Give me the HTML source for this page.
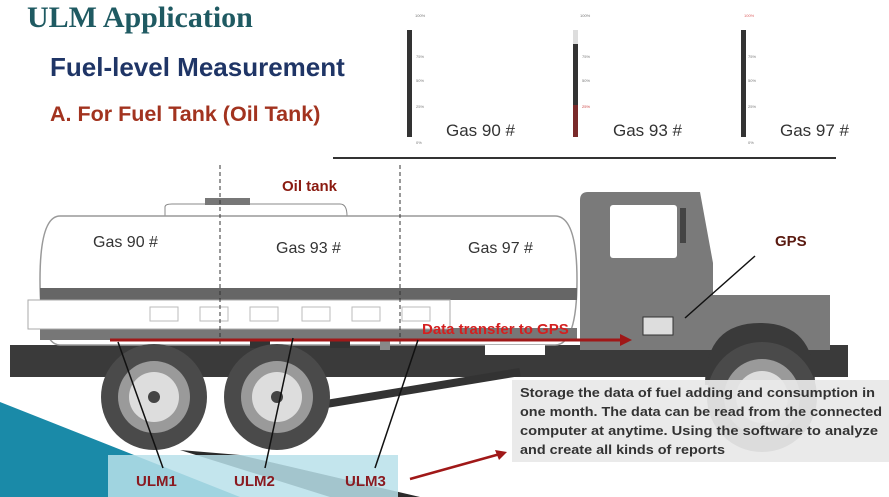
<!DOCTYPE html>
<html><head><meta charset="utf-8"><style>
html,body{margin:0;padding:0;background:#fff;}
svg{display:block;}
</style></head><body>
<svg width="889" height="497" viewBox="0 0 889 497" xmlns="http://www.w3.org/2000/svg" font-family="Liberation Sans, sans-serif">
<rect width="889" height="497" fill="#fff"/>
<!-- titles -->
<text x="27" y="27" font-family="Liberation Serif, serif" font-weight="bold" font-size="30" fill="#1f5a62">ULM Application</text>
<text x="50" y="76" font-weight="bold" font-size="26" fill="#1f3566">Fuel-level Measurement</text>
<text x="50" y="121" font-weight="bold" font-size="21.5" fill="#a2331f">A. For Fuel Tank (Oil Tank)</text>
<!-- gauges -->
<g font-size="4" fill="#777">
<rect x="407" y="30" width="5" height="107" fill="#333"/>
<text x="415" y="17">100%</text><text x="416" y="58">75%</text><text x="416" y="82">50%</text><text x="416" y="108">25%</text><text x="416" y="144">0%</text>
<rect x="573" y="30" width="5" height="14" fill="#ddd"/>
<rect x="573" y="44" width="5" height="93" fill="#333"/>
<rect x="573" y="105" width="5" height="32" fill="#7a2a2a"/>
<text x="580" y="17">100%</text><text x="582" y="58">75%</text><text x="582" y="82">50%</text><text x="582" y="108" fill="#c44">25%</text>
<rect x="741" y="30" width="5" height="107" fill="#333"/>
<text x="744" y="17" fill="#d66">100%</text><text x="748" y="58">75%</text><text x="748" y="82">50%</text><text x="748" y="108">25%</text><text x="748" y="144">0%</text>
</g>
<g font-size="17" fill="#333">
<text x="446" y="136">Gas 90 #</text>
<text x="613" y="136">Gas 93 #</text>
<text x="780" y="136">Gas 97 #</text>
</g>
<line x1="333" y1="158" x2="836" y2="158" stroke="#333" stroke-width="2"/>
<!-- chassis -->
<rect x="10" y="345" width="838" height="32" fill="#3a3a3a"/>
<line x1="320" y1="405" x2="520" y2="372" stroke="#333" stroke-width="8"/>
<!-- tank -->
<path d="M165 216 L165 207 Q165 204 172 204 L340 204 Q347 204 347 216 Z" fill="#fff" stroke="#888"/>
<rect x="205" y="198" width="45" height="7" fill="#777"/>
<path d="M60 216 L555 216 Q577 216 577 280 Q577 345 555 345 L60 345 Q40 345 40 280 Q40 216 60 216 Z" fill="#fff" stroke="#999" stroke-width="1.5"/>
<rect x="40" y="288" width="537" height="12" fill="#666"/>
<rect x="40" y="328" width="537" height="12" fill="#777"/>
<rect x="28" y="300" width="422" height="29" fill="#fff" stroke="#aaa"/>
<g fill="none" stroke="#bbb"><rect x="150" y="307" width="28" height="14"/><rect x="200" y="307" width="28" height="14"/><rect x="250" y="307" width="28" height="14"/><rect x="302" y="307" width="28" height="14"/><rect x="352" y="307" width="28" height="14"/><rect x="402" y="307" width="28" height="14"/></g>
<rect x="250" y="340" width="20" height="8" fill="#333"/><rect x="330" y="340" width="20" height="8" fill="#333"/><rect x="380" y="340" width="10" height="10" fill="#888"/>
<rect x="485" y="345" width="60" height="10" fill="#fff"/>
<!-- cab -->
<path d="M588 192 L700 192 L713 263 L713 295 L830 295 L830 350 L580 350 L580 200 Q580 192 588 192 Z" fill="#7a7a7a"/>
<rect x="610" y="205" width="67" height="53" rx="3" fill="#fff"/>
<rect x="680" y="208" width="6" height="35" fill="#444"/>
<rect x="643" y="317" width="30" height="18" fill="#ddd" stroke="#333"/>
<path d="M705 385 Q705 323 760 323 Q815 323 815 385 Z" fill="#3a3a3a"/>
<!-- wheels -->
<g>
<circle cx="154" cy="397" r="53" fill="#4a4a4a"/><circle cx="154" cy="397" r="36" fill="#9a9a9a"/><circle cx="154" cy="397" r="25" fill="#ddd"/><circle cx="154" cy="397" r="6" fill="#444"/>
<circle cx="277" cy="397" r="53" fill="#4a4a4a"/><circle cx="277" cy="397" r="36" fill="#9a9a9a"/><circle cx="277" cy="397" r="25" fill="#ddd"/><circle cx="277" cy="397" r="6" fill="#444"/>
<circle cx="762" cy="397" r="55" fill="#4a4a4a"/><circle cx="762" cy="397" r="38" fill="#9a9a9a"/><circle cx="762" cy="397" r="26" fill="#ddd"/>
</g>
<!-- dashed -->
<line x1="220" y1="165" x2="220" y2="345" stroke="#333" stroke-dasharray="4,3"/>
<line x1="400" y1="165" x2="400" y2="345" stroke="#333" stroke-dasharray="4,3"/>
<text x="282" y="191" font-weight="bold" font-size="15" fill="#8a1a10">Oil tank</text>
<g font-size="16" fill="#333">
<text x="93" y="247">Gas 90 #</text><text x="276" y="253">Gas 93 #</text><text x="468" y="253">Gas 97 #</text>
</g>
<!-- blue swoosh -->
<path d="M0 402 L240 497 L0 497 Z" fill="#1a8aa8"/>
<path d="M180 450 L240 455 L420 497 L330 497 Z" fill="#2a2a2a"/>
<rect x="108" y="455" width="290" height="42" fill="#b8e0ea" opacity="0.85"/>
<!-- text box -->
<rect x="512" y="380" width="377" height="82" fill="#e8e8e8" opacity="0.92"/>
<g font-size="12.5" fill="#333" font-weight="bold">
<text x="520" y="397" textLength="355" lengthAdjust="spacingAndGlyphs">Storage the data of fuel adding and consumption in</text>
<text x="520" y="416" textLength="362" lengthAdjust="spacingAndGlyphs">one month. The data can be read from the connected</text>
<text x="520" y="435" textLength="358" lengthAdjust="spacingAndGlyphs">computer at anytime. Using the software to analyze</text>
<text x="520" y="454" textLength="205" lengthAdjust="spacingAndGlyphs">and create all kinds of reports</text>
</g>
<!-- red arrows -->
<line x1="110" y1="340" x2="622" y2="340" stroke="#a01818" stroke-width="3"/>
<path d="M632 340 L620 334 L620 346 Z" fill="#a01818"/>
<text x="422" y="334" font-weight="bold" font-size="15" fill="#d42020">Data transfer to GPS</text>
<line x1="410" y1="479" x2="500" y2="454" stroke="#a01818" stroke-width="2.5"/>
<path d="M507 452 L495 450 L499 460 Z" fill="#a01818"/>
<!-- ULM -->
<g stroke="#111" stroke-width="1.5">
<line x1="118" y1="342" x2="163" y2="468"/><line x1="293" y1="338" x2="265" y2="468"/><line x1="418" y1="340" x2="375" y2="468"/>
<line x1="755" y1="256" x2="685" y2="318"/>
</g>
<text x="775" y="246" font-weight="bold" font-size="15" fill="#5a1a10">GPS</text>
<g font-weight="bold" font-size="15" fill="#8a1a20">
<text x="136" y="486">ULM1</text><text x="234" y="486">ULM2</text><text x="345" y="486">ULM3</text>
</g>
</svg>
</body></html>
